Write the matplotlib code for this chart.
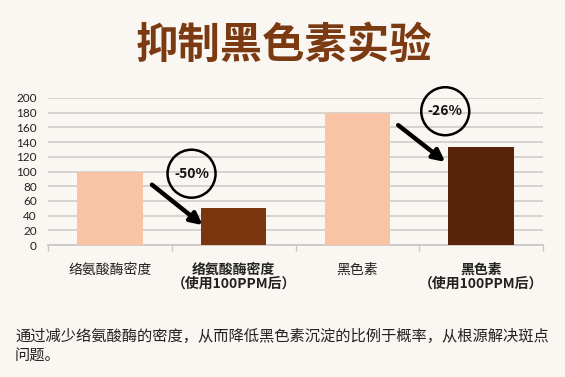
import matplotlib
matplotlib.use("Agg")
import matplotlib.pyplot as plt
from matplotlib.patches import Ellipse

plt.rcParams['font.family'] = ['Noto Sans CJK SC', 'DejaVu Sans']

categories = ['络氨酸酶密度', '络氨酸酶密度\n（使用100PPM后）', '黑色素', '黑色素\n（使用100PPM后）']
values = [100, 50, 180, 133]
bold_flags = [False, True, False, True]
bar_colors = ['#F9C4A5', '#7B360F', '#F9C4A5', '#57240A']
yticks = list(range(0, 201, 20))
changes = ['-50%', '-26%']

title = '抑制黑色素实验'
note = '通过减少络氨酸酶的密度，从而降低黑色素沉淀的比例于概率，从根源解决斑点\n问题。'

bg = '#FAF6F2'
fig = plt.figure(figsize=(5.65, 3.77), dpi=100, facecolor=bg)
ax = fig.add_axes([48/565, 1-245/377, 495/565, 147/377], facecolor=bg)

x = list(range(len(values)))
ax.bar(x, values, width=0.53, color=bar_colors, zorder=3)
ax.set_xlim(-0.5, 3.5)
ax.set_ylim(0, 200)
ax.set_yticks(yticks)
ax.set_yticklabels([str(v) for v in yticks], fontsize=8.5, color='#222222', family=['Lato', 'DejaVu Sans'])
ax.yaxis.grid(True, color='#D3D0CD', linewidth=1.3, zorder=0)
ax.tick_params(axis='y', length=0, pad=8)

ax.set_xticks(x)
ax.set_xticklabels(categories, fontsize=10, color='#222222', linespacing=1.0)
for lbl, b in zip(ax.get_xticklabels(), bold_flags):
    if b:
        lbl.set_fontweight('bold')
ax.tick_params(axis='x', length=0, pad=13)
ax.set_xticks([-0.5, 0.5, 1.5, 2.5, 3.5], minor=True)
ax.tick_params(axis='x', which='minor', length=4, color='#C8C5C2', width=1)

for s in ['top', 'right', 'left']:
    ax.spines[s].set_visible(False)
ax.spines['bottom'].set_color('#C8C5C2')
ax.spines['bottom'].set_linewidth(1.2)

px_per_x = 495/4.0
px_per_y = 147/200.0
r = 24
def add_badge(cx, cy, txt):
    e = Ellipse((cx, cy), 2*r/px_per_x, 2*r/px_per_y, facecolor='none', edgecolor='black',
                linewidth=1.8, clip_on=False, zorder=5)
    ax.add_patch(e)
    ax.text(cx, cy, txt, ha='center', va='center', fontsize=10, fontweight='bold',
            color='#111111', zorder=6, clip_on=False)

add_badge(0.66, 97, changes[0])
add_badge(2.71, 182, changes[1])

arrowprops = dict(arrowstyle='-|>,head_length=0.7,head_width=0.35', color='black', lw=3.2,
                  shrinkA=0, shrinkB=0)
ax.annotate('', xy=(0.75, 27), xytext=(0.34, 82), arrowprops=arrowprops, zorder=6)
ax.annotate('', xy=(2.71, 113), xytext=(2.33, 163), arrowprops=arrowprops, zorder=6)

fig.text(284/565, 1-46/377, title, ha='center', va='center', fontsize=30.5, fontweight='bold', color='#7B3A12')
fig.text(15/565, 1-345.5/377, note, ha='left', va='center', fontsize=11.0, color='#222222', linespacing=1.15)

fig.savefig('out.png', dpi=100, facecolor=bg)
